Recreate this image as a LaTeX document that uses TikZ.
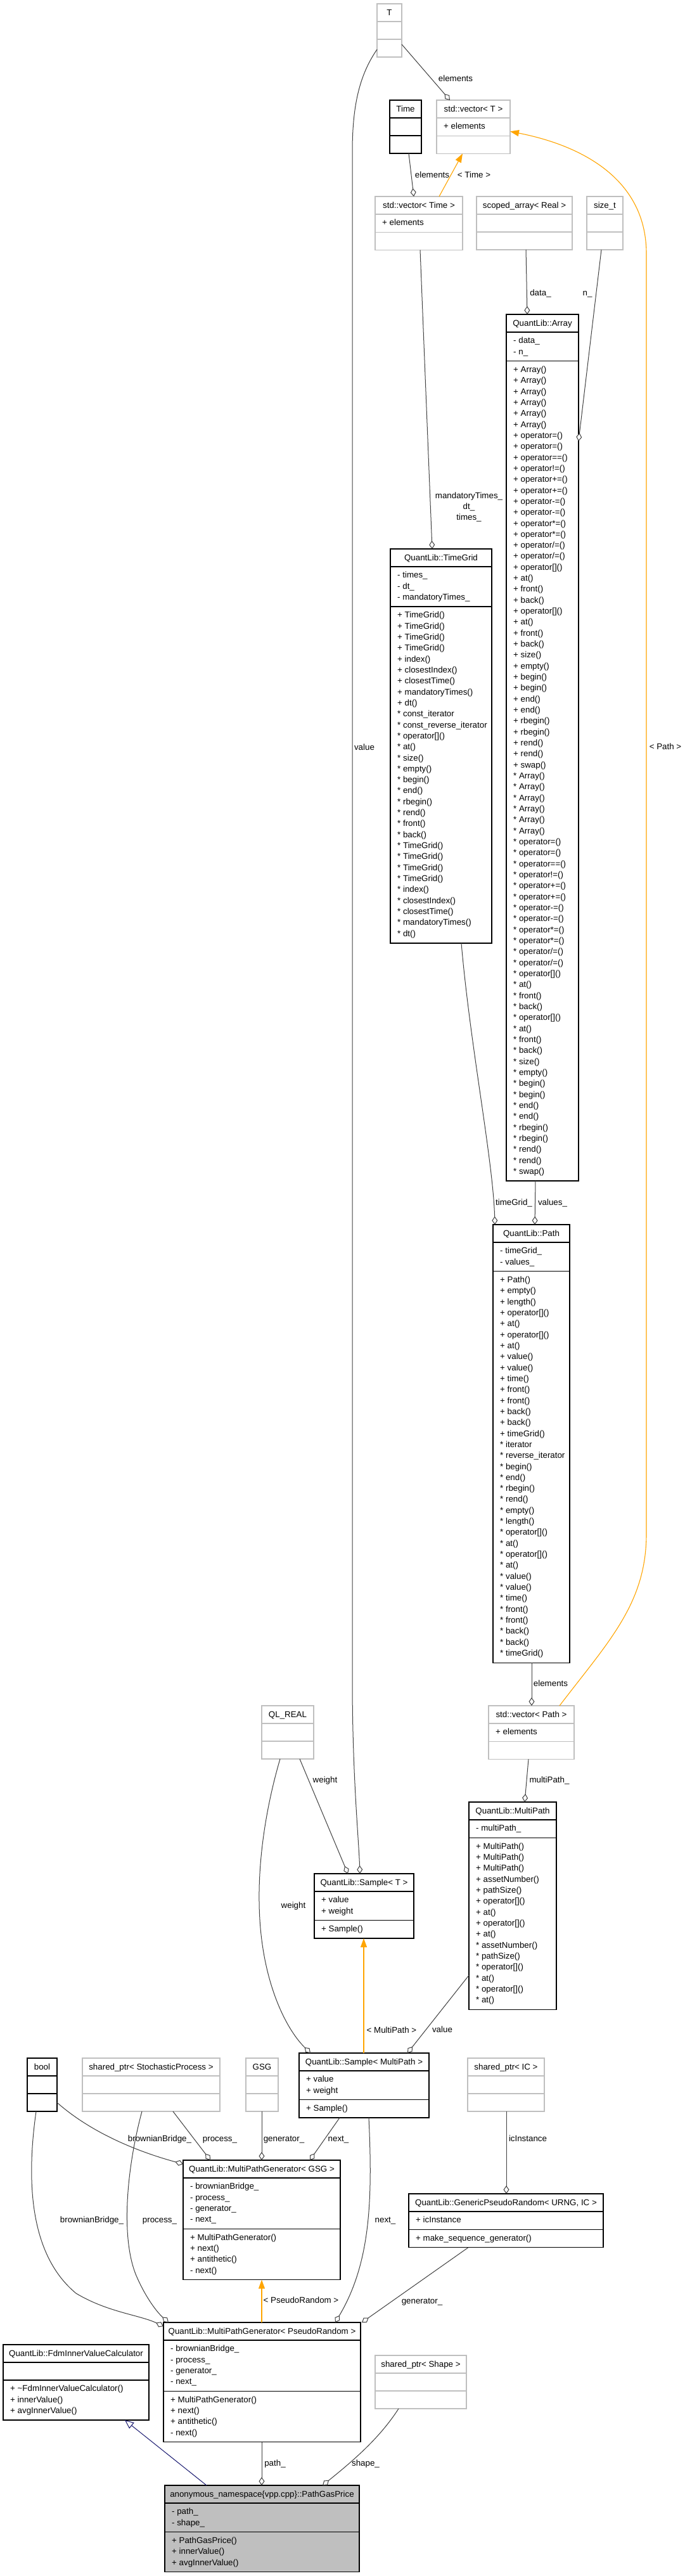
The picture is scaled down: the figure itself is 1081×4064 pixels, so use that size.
\documentclass[tikz,border=0pt]{standalone}
\usepackage{fontspec}
\setmainfont{Liberation Sans}
\usetikzlibrary{arrows.meta,calc}
\definecolor{edgegray}{HTML}{404040}
\definecolor{lightb}{HTML}{BFBFBF}
\definecolor{tmplorange}{HTML}{FFA500}
\definecolor{inhblue}{HTML}{191970}
\definecolor{graybg}{HTML}{BFBFBF}
\newcommand{\dxfont}{\fontsize{13.33}{17.33}\selectfont}
\newcommand{\sstrut}{\rule{0pt}{12pt}}
% \classbox{style}{name}{x1}{y1}{x2}{title}{n attr lines}{n method lines}; uses \cbA and \cbM
\newcommand{\classbox}[8]{%
  \pgfmathsetmacro{\hA}{(#7==0)?28:(#7*17.33+11)}%
  \pgfmathsetmacro{\hM}{(#8==0)?28:(#8*17.33+11)}%
  \pgfmathsetmacro{\ya}{#4+28}%
  \pgfmathsetmacro{\yb}{\ya+\hA}%
  \pgfmathsetmacro{\yc}{\yb+\hM}%
  \pgfmathsetmacro{\bw}{#5-#3}%
  \pgfmathsetmacro{\bh}{\yc-#4}%
  \pgfmathsetmacro{\cx}{(#3+#5)/2}%
  \node[#1, minimum width=\bw pt, minimum height=\bh pt, anchor=north west, inner sep=0pt, outer sep=0pt] (#2) at (#3,#4) {};%
  \draw[#1] (#3,\ya) -- (#5,\ya) (#3,\yb) -- (#5,\yb);%
  \node[txt, anchor=base] (#2-h) at (\cx,#4+18.5) {#6};%
  \ifnum#7>0 \node[txt, anchor=north west, align=left] (#2-a) at (#3+11,\ya+5.5) {\sstrut\cbA};\fi
  \ifnum#8>0 \node[txt, anchor=north west, align=left] (#2-m) at (#3+11,\yb+5.5) {\sstrut\cbM};\fi
}
\tikzset{
  boxblack/.style={draw=black, fill=white, line width=1.4pt},
  boxlight/.style={draw=lightb, fill=white, line width=1.4pt},
  boxgray/.style={draw=black, fill=graybg, line width=1.4pt},
  txt/.style={font=\dxfont, inner sep=0pt, text=black},
  lbl/.style={font=\dxfont, inner sep=0pt, anchor=base, text=black},
  agg/.style={draw=edgegray, line width=1pt, -{Diamond[length=13pt, width=9pt, fill=white, line width=1pt]}},
  tmpl/.style={draw=tmplorange, line width=1.1pt, -{Triangle[length=14pt, width=10pt]}},
  inh/.style={draw=inhblue, line width=1pt, -{Triangle[length=14pt, width=12pt, fill=white]}},
}
\begin{document}
\begin{tikzpicture}[x=1pt,y=-1pt]
\useasboundingbox (0,0) rectangle (1081,4064);
\fill[white] (0,0) rectangle (1081,4064);

% ---------- top row ----------
\classbox{boxlight}{nT}{595}{6}{634}{T}{0}{0}
\classbox{boxblack}{nTime}{615}{158}{665}{Time}{0}{0}
\def\cbA{+ elements}
\classbox{boxlight}{nVecT}{689}{158}{805}{std::vector< T >}{1}{0}
\classbox{boxlight}{nVecTime}{592}{310}{730}{std::vector< Time >}{1}{0}
\classbox{boxlight}{nScoped}{752}{310}{903}{scoped\_array< Real >}{0}{0}
\classbox{boxlight}{nSizet}{926}{310}{983}{size\_t}{0}{0}

% ---------- Array ----------
\def\cbA{- data\_\\- n\_}
\def\cbM{+ Array()\\+ Array()\\+ Array()\\+ Array()\\+ Array()\\+ Array()\\+ operator=()\\+ operator=()\\+ operator==()\\+ operator!=()\\+ operator+=()\\+ operator+=()\\+ operator-=()\\+ operator-=()\\+ operator*=()\\+ operator*=()\\+ operator/=()\\+ operator/=()\\+ operator[]()\\+ at()\\+ front()\\+ back()\\+ operator[]()\\+ at()\\+ front()\\+ back()\\+ size()\\+ empty()\\+ begin()\\+ begin()\\+ end()\\+ end()\\+ rbegin()\\+ rbegin()\\+ rend()\\+ rend()\\+ swap()\\{}* Array()\\{}* Array()\\{}* Array()\\{}* Array()\\{}* Array()\\{}* Array()\\{}* operator=()\\{}* operator=()\\{}* operator==()\\{}* operator!=()\\{}* operator+=()\\{}* operator+=()\\{}* operator-=()\\{}* operator-=()\\{}* operator*=()\\{}* operator*=()\\{}* operator/=()\\{}* operator/=()\\{}* operator[]()\\{}* at()\\{}* front()\\{}* back()\\{}* operator[]()\\{}* at()\\{}* front()\\{}* back()\\{}* size()\\{}* empty()\\{}* begin()\\{}* begin()\\{}* end()\\{}* end()\\{}* rbegin()\\{}* rbegin()\\{}* rend()\\{}* rend()\\{}* swap()}
\classbox{boxblack}{nArray}{799}{496}{913}{QuantLib::Array}{2}{74}

% ---------- TimeGrid ----------
\def\cbA{- times\_\\- dt\_\\- mandatoryTimes\_}
\def\cbM{+ TimeGrid()\\+ TimeGrid()\\+ TimeGrid()\\+ TimeGrid()\\+ index()\\+ closestIndex()\\+ closestTime()\\+ mandatoryTimes()\\+ dt()\\{}* const\_iterator\\{}* const\_reverse\_iterator\\{}* operator[]()\\{}* at()\\{}* size()\\{}* empty()\\{}* begin()\\{}* end()\\{}* rbegin()\\{}* rend()\\{}* front()\\{}* back()\\{}* TimeGrid()\\{}* TimeGrid()\\{}* TimeGrid()\\{}* TimeGrid()\\{}* index()\\{}* closestIndex()\\{}* closestTime()\\{}* mandatoryTimes()\\{}* dt()}
\classbox{boxblack}{nTimeGrid}{616}{866}{776}{QuantLib::TimeGrid}{3}{30}

% ---------- Path ----------
\def\cbA{- timeGrid\_\\- values\_}
\def\cbM{+ Path()\\+ empty()\\+ length()\\+ operator[]()\\+ at()\\+ operator[]()\\+ at()\\+ value()\\+ value()\\+ time()\\+ front()\\+ front()\\+ back()\\+ back()\\+ timeGrid()\\{}* iterator\\{}* reverse\_iterator\\{}* begin()\\{}* end()\\{}* rbegin()\\{}* rend()\\{}* empty()\\{}* length()\\{}* operator[]()\\{}* at()\\{}* operator[]()\\{}* at()\\{}* value()\\{}* value()\\{}* time()\\{}* front()\\{}* front()\\{}* back()\\{}* back()\\{}* timeGrid()}
\classbox{boxblack}{nPath}{778}{1932}{899}{QuantLib::Path}{2}{35}

\def\cbA{+ elements}
\classbox{boxlight}{nVecPath}{771}{2691}{906}{std::vector< Path >}{1}{0}
\classbox{boxlight}{nQLReal}{413}{2691}{495}{QL\_REAL}{0}{0}

% ---------- MultiPath ----------
\def\cbA{- multiPath\_}
\def\cbM{+ MultiPath()\\+ MultiPath()\\+ MultiPath()\\+ assetNumber()\\+ pathSize()\\+ operator[]()\\+ at()\\+ operator[]()\\+ at()\\{}* assetNumber()\\{}* pathSize()\\{}* operator[]()\\{}* at()\\{}* operator[]()\\{}* at()}
\classbox{boxblack}{nMultiPath}{740}{2843}{878}{QuantLib::MultiPath}{1}{15}

% ---------- Samples ----------
\def\cbA{+ value\\+ weight}
\def\cbM{+ Sample()}
\classbox{boxblack}{nSampleT}{496}{2956}{653}{QuantLib::Sample< T >}{2}{1}
\classbox{boxblack}{nSampleMP}{472}{3239}{677}{QuantLib::Sample< MultiPath >}{2}{1}

% ---------- row of small boxes ----------
\classbox{boxblack}{nBool}{43}{3247}{90}{bool}{0}{0}
\classbox{boxlight}{nSharedSP}{130}{3247}{347}{shared\_ptr< StochasticProcess >}{0}{0}
\classbox{boxlight}{nGSG}{388}{3247}{439}{GSG}{0}{0}
\classbox{boxlight}{nSharedIC}{738}{3247}{859}{shared\_ptr< IC >}{0}{0}

% ---------- generators ----------
\def\cbA{- brownianBridge\_\\- process\_\\- generator\_\\- next\_}
\def\cbM{+ MultiPathGenerator()\\+ next()\\+ antithetic()\\- next()}
\classbox{boxblack}{nMPGGSG}{289}{3408}{537}{QuantLib::MultiPathGenerator< GSG >}{4}{4}
\classbox{boxblack}{nMPGPR}{258}{3664}{569}{QuantLib::MultiPathGenerator< PseudoRandom >}{4}{4}

\def\cbA{+ icInstance}
\def\cbM{+ make\_sequence\_generator()}
\classbox{boxblack}{nGPR}{645}{3461}{952}{QuantLib::GenericPseudoRandom< URNG, IC >}{1}{1}

\def\cbM{+ \textasciitilde FdmInnerValueCalculator()\\+ innerValue()\\+ avgInnerValue()}
\classbox{boxblack}{nFdm}{5}{3699}{235}{QuantLib::FdmInnerValueCalculator}{0}{3}

\classbox{boxlight}{nSharedShape}{592}{3716}{736}{shared\_ptr< Shape >}{0}{0}

\def\cbA{- path\_\\- shape\_}
\def\cbM{+ PathGasPrice()\\+ innerValue()\\+ avgInnerValue()}
\classbox{boxgray}{nPGP}{260}{3921}{567}{anonymous\_namespace\{vpp.cpp\}::PathGasPrice}{2}{3}

% ---------- connectors ----------
\draw[agg] ($(nT.north east)+(0,64)$) -- ($(nVecT.north west)+(21,0)$);
\node[lbl] (l1) at (719,128) {elements};

\draw[agg] ($(nTime.south west)+(30,0)$) -- ($(nVecTime.north west)+(61,0)$);
\node[lbl] (l2) at (682,280) {elements};

\draw[tmpl] ($(nVecTime.north west)+(101,0)$) -- ($(nVecT.south west)+(41,0)$);
\node[lbl] (l3) at (748,280) {< Time >};

\draw[agg] ($(nVecTime.south west)+(71,0)$) -- ($(nTimeGrid.north west)+(66,0)$);
\node[txt, align=center, anchor=center] (l4) at (740,800) {mandatoryTimes\_\\dt\_\\times\_};

\draw[agg] ($(nScoped.south west)+(78,0)$) -- ($(nArray.north west)+(33,0)$);
\node[lbl] (l5) at (853,466) {data\_};
\draw[agg] ($(nSizet.south west)+(23,0)$) -- ($(nArray.north east)+(0,200)$);
\node[lbl] (l6) at (927,466) {n\_};

\draw[agg] ($(nT.south west)+(0,-12)$) .. controls (566,120) and (556,170) .. (556,240) -- (556,2650) .. controls (556,2800) and (566,2900) .. ($(nSampleT.north west)+(72,0)$);
\node[lbl] (l7) at (575,1183) {value};

\draw[agg] ($(nArray.south west)+(46,0)$) -- ($(nPath.north west)+(66,0)$);
\node[lbl] (l8) at (872,1901) {values\_};
\draw[agg] ($(nTimeGrid.south west)+(112,0)$) .. controls (742,1650) and (778,1830) .. ($(nPath.north west)+(3,0)$);
\node[lbl] (l9) at (811,1901) {timeGrid\_};

\draw[agg] ($(nPath.south west)+(61,0)$) -- ($(nVecPath.north west)+(68,0)$);
\node[lbl] (l10) at (869,2660) {elements};

\draw[tmpl] ($(nVecPath.north east)+(-23,0)$) .. controls (960,2590) and (1020,2530) .. (1020,2420) -- (1020,400) .. controls (1020,290) and (930,232) .. ($(nVecT.south east)+(0,-35)$);
\node[lbl] (l11) at (1050,1182) {< Path >};

\draw[agg] ($(nVecPath.south west)+(63,0)$) -- ($(nMultiPath.north west)+(88,0)$);
\node[lbl] (l12) at (867,2812) {multiPath\_};

\draw[agg] ($(nQLReal.south west)+(60,0)$) -- ($(nSampleT.north west)+(53,0)$);
\node[lbl] (l13) at (513,2812) {weight};

\draw[agg] ($(nQLReal.south west)+(29,0)$) .. controls (420,2850) and (408,2930) .. (409,3000) .. controls (410,3120) and (450,3200) .. ($(nSampleMP.north west)+(18,0)$);
\node[lbl] (l14) at (463,3010) {weight};

\draw[agg] ($(nMultiPath.south west)+(0,-54)$) -- ($(nSampleMP.north west)+(171,0)$);
\node[lbl] (l15) at (698,3206) {value};

\draw[tmpl] ($(nSampleMP.north west)+(102,0)$) -- ($(nSampleT.south west)+(78,0)$);
\node[lbl] (l16) at (618,3207) {< MultiPath >};

\draw[agg] ($(nBool.north east)+(0,70)$) .. controls (150,3370) and (230,3398) .. ($(nMPGGSG.north west)+(0,6)$);
\node[lbl] (l17) at (252,3378) {brownianBridge\_};

\draw[agg] ($(nSharedSP.south west)+(143,0)$) -- ($(nMPGGSG.north west)+(43,0)$);
\node[lbl] (l18) at (347,3378) {process\_};

\draw[agg] ($(nGSG.south west)+(25,0)$) -- ($(nMPGGSG.north west)+(124,0)$);
\node[lbl] (l19) at (448,3378) {generator\_};

\draw[agg] ($(nSampleMP.south west)+(64,0)$) -- ($(nMPGGSG.north west)+(200,0)$);
\node[lbl] (l20) at (534,3378) {next\_};

\draw[agg] ($(nBool.south west)+(14,0)$) .. controls (40,3450) and (50,3560) .. (120,3618) .. controls (170,3648) and (220,3652) .. ($(nMPGPR.north west)+(0,6)$);
\node[lbl] (l21) at (145,3506) {brownianBridge\_};

\draw[agg] ($(nSharedSP.south west)+(94,0)$) .. controls (200,3420) and (190,3530) .. (215,3590) .. controls (230,3625) and (248,3648) .. ($(nMPGPR.north west)+(8,0)$);
\node[lbl] (l22) at (252,3506) {process\_};

\draw[tmpl] ($(nMPGPR.north west)+(155,0)$) -- ($(nMPGGSG.south west)+(124,0)$);
\node[lbl] (l23) at (475,3633) {< PseudoRandom >};

\draw[agg] ($(nSampleMP.south west)+(110,0)$) .. controls (588,3470) and (585,3570) .. ($(nMPGPR.north east)+(-40,0)$);
\node[lbl] (l24) at (608,3506) {next\_};

\draw[agg] ($(nSharedIC.south west)+(61,0)$) -- ($(nGPR.north west)+(154,0)$);
\node[lbl] (l25) at (833,3378) {icInstance};

\draw[agg] ($(nGPR.south west)+(94,0)$) -- ($(nMPGPR.north east)+(2,0)$);
\node[lbl] (l26) at (666,3634) {generator\_};

\draw[agg] ($(nMPGPR.south west)+(155,0)$) -- ($(nPGP.north west)+(153,0)$);
\node[lbl] (l27) at (434,3890) {path\_};

\draw[agg] ($(nSharedShape.south west)+(37,0)$) .. controls (600,3845) and (560,3880) .. ($(nPGP.north west)+(249,0)$);
\node[lbl] (l28) at (577,3890) {shape\_};

\draw[inh] ($(nPGP.north west)+(66,0)$) -- ($(nFdm.south west)+(192,0)$);
\end{tikzpicture}
\end{document}
